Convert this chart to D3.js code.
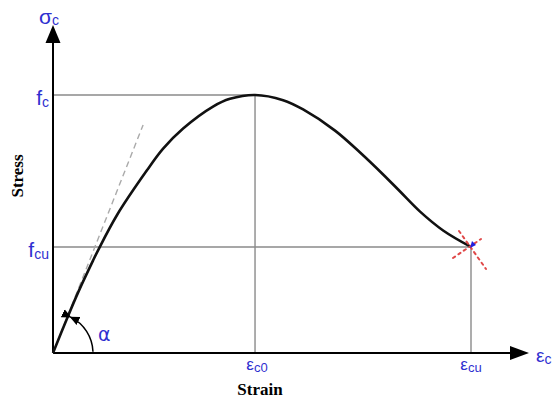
<!DOCTYPE html>
<html>
<head>
<meta charset="utf-8">
<script src="https://cdn.jsdelivr.net/npm/d3@7"></script>
<style>
  body { margin: 0; background: #fff; }
  svg { display: block; }
</style>
</head>
<body>
<div id="chart"></div>
<script>
// normalised values: strain / eps_c0, stress / f_c
const strain = [0, 0.07, 0.125, 0.198, 0.223, 0.317, 0.465, 0.545, 0.644, 0.792, 0.876, 1.0,
  1.139, 1.238, 1.396, 1.52, 1.634, 1.718, 1.817, 1.931, 2.069];
const stress = [0, 0.135, 0.236, 0.358, 0.398, 0.535, 0.708, 0.792, 0.87, 0.955, 0.985, 1.0,
  0.98, 0.944, 0.862, 0.777, 0.692, 0.626, 0.548, 0.475, 0.411];

const epsCu = 2.069;
const fcu = 0.411;

// initial tangent (modulus line)
const tangentStrain = [0, 0.446];
const tangentStress = [0, 0.884];

const xTickValues = [1, epsCu];
const xTickNames = ['ε', 'ε'];
const xTickSubs = ['c0', 'cu'];
const yTickValues = [1, fcu];
const yTickNames = ['f', 'f'];
const yTickSubs = ['c', 'cu'];

const width = 555;
const height = 401;
const blue = '#2f2fd0';

const x = d3.scaleLinear().domain([0, epsCu]).range([53, 471]);
const y = d3.scaleLinear().domain([0, 1]).range([353, 95]);

const svg = d3.select('#chart').append('svg')
  .attr('width', width)
  .attr('height', height);

const defs = svg.append('defs');
defs.append('marker')
  .attr('id', 'tip')
  .attr('viewBox', '0 0 10 10')
  .attr('refX', 9).attr('refY', 5)
  .attr('markerWidth', 6.5).attr('markerHeight', 6.5)
  .attr('orient', 'auto-start-reverse')
  .append('path')
  .attr('d', 'M0,0.5L10,5L0,9.5Z')
  .attr('fill', '#000');

// guide lines to f_c / eps_c0 and f_cu / eps_cu
const guides = svg.append('g').attr('stroke', '#8a8a8a').attr('stroke-width', 1.4);
yTickValues.forEach((v, i) => {
  guides.append('line')
    .attr('x1', x(0)).attr('x2', x(xTickValues[i]))
    .attr('y1', y(v)).attr('y2', y(v));
  guides.append('line')
    .attr('x1', x(xTickValues[i])).attr('x2', x(xTickValues[i]))
    .attr('y1', y(0)).attr('y2', y(v));
});

// axes with arrow heads
const axes = svg.append('g').attr('stroke', '#000').attr('stroke-width', 2);
axes.append('line').attr('x1', x(0)).attr('y1', y(0)).attr('x2', 512).attr('y2', y(0));
axes.append('line').attr('x1', x(0)).attr('y1', y(0)).attr('x2', x(0)).attr('y2', 41);
svg.append('path')
  .attr('d', `M510,${y(0) - 7}L529,${y(0)}L510,${y(0) + 7}Z`)
  .attr('fill', '#000');
svg.append('path')
  .attr('d', `M${x(0) - 7.5},43L${x(0)},25L${x(0) + 7.5},43Z`)
  .attr('fill', '#000');

// tangent
svg.append('path')
  .datum(d3.zip(tangentStrain, tangentStress))
  .attr('fill', 'none')
  .attr('stroke', '#aaa')
  .attr('stroke-width', 1.4)
  .attr('stroke-dasharray', '6,4')
  .attr('d', d3.line().x((d) => x(d[0])).y((d) => y(d[1])));

// stress-strain curve
svg.append('path')
  .datum(d3.zip(strain, stress))
  .attr('fill', 'none')
  .attr('stroke', '#111')
  .attr('stroke-width', 2.6)
  .attr('stroke-linejoin', 'round')
  .attr('d', d3.line().curve(d3.curveCatmullRom.alpha(0.5)).x((d) => x(d[0])).y((d) => y(d[1])));

// failure marker
const ex = x(epsCu);
const ey = y(fcu);
const cross = svg.append('g')
  .attr('stroke', '#e04848')
  .attr('stroke-width', 2)
  .attr('stroke-dasharray', '2.5,4')
  .attr('stroke-linecap', 'round');
cross.append('line').attr('x1', ex - 12).attr('y1', ey - 16).attr('x2', ex + 15).attr('y2', ey + 22);
cross.append('line').attr('x1', ex - 18).attr('y1', ey + 11).attr('x2', ex + 10).attr('y2', ey - 8);
svg.append('path')
  .attr('d', `M${ex - 1},${ey + 1}L${ex + 1},${ey - 6}L${ex + 5},${ey - 2}Z`)
  .attr('fill', '#2020e0');

// alpha angle arc
const arc = d3.arc()
  .innerRadius(40).outerRadius(40)
  .startAngle(Math.atan2(15, 34) + 0.04)
  .endAngle(Math.PI / 2 - 0.03);
svg.append('path')
  .attr('d', arc())
  .attr('transform', `translate(${x(0)},${y(0)})`)
  .attr('fill', 'none')
  .attr('stroke', '#000')
  .attr('stroke-width', 1.5)
  .attr('marker-start', 'url(#tip)')
  .attr('marker-end', 'url(#tip)');
svg.append('text')
  .attr('x', 98).attr('y', 341)
  .attr('fill', blue)
  .attr('font-family', 'DejaVu Sans, sans-serif')
  .attr('font-size', 19)
  .text('α');

// tick labels
const labelFont = 'Liberation Sans, Arial, sans-serif';
yTickValues.forEach((v, i) => {
  const t = svg.append('text')
    .attr('x', 49).attr('y', y(v) + 10)
    .attr('text-anchor', 'end')
    .attr('fill', blue)
    .attr('font-family', labelFont)
    .attr('font-size', 21);
  t.append('tspan').text(yTickNames[i]);
  t.append('tspan').attr('font-size', 14).attr('dy', 2).text(yTickSubs[i]);
});
xTickValues.forEach((v, i) => {
  const t = svg.append('text')
    .attr('x', x(v) + (i ? 0 : 2)).attr('y', 370)
    .attr('text-anchor', 'middle')
    .attr('fill', blue)
    .attr('font-family', labelFont)
    .attr('font-size', 17);
  t.append('tspan').text(xTickNames[i]);
  t.append('tspan').attr('font-size', 13).attr('dy', 2).text(xTickSubs[i]);
});

// axis symbols
const sig = svg.append('text')
  .attr('x', 39).attr('y', 24)
  .attr('fill', blue)
  .attr('font-family', labelFont)
  .attr('font-size', 21);
sig.append('tspan').text('σ');
sig.append('tspan').attr('font-size', 14).attr('dy', 1).text('c');
const eps = svg.append('text')
  .attr('x', 536).attr('y', 362)
  .attr('fill', blue)
  .attr('font-family', labelFont)
  .attr('font-size', 19);
eps.append('tspan').text('ε');
eps.append('tspan').attr('font-size', 14).attr('dy', 2).text('c');

// axis titles
svg.append('text')
  .attr('x', 260).attr('y', 395)
  .attr('text-anchor', 'middle')
  .attr('font-family', 'Liberation Serif, Times New Roman, serif')
  .attr('font-weight', 'bold')
  .attr('font-size', 17)
  .text('Strain');
svg.append('text')
  .attr('transform', 'translate(23,176) rotate(-90)')
  .attr('text-anchor', 'middle')
  .attr('font-family', 'Liberation Serif, Times New Roman, serif')
  .attr('font-weight', 'bold')
  .attr('font-size', 17)
  .text('Stress');
</script>
</body>
</html>
